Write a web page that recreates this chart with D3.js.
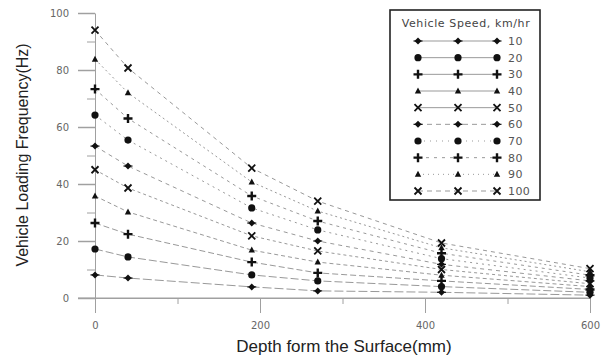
<!DOCTYPE html>
<html>
<head>
<meta charset="utf-8">
<script src="https://cdn.jsdelivr.net/npm/d3@7"></script>
<style>
  body { margin: 0; background: #fff; }
  svg { display: block; font-family: "Liberation Sans", Arial, sans-serif; }
  .axis path, .axis line { stroke: #a0a0a0; }
  .axis text { fill: #666; font-size: 10px; font-family: "DejaVu Sans", sans-serif; }
</style>
</head>
<body>
<div id="chart"></div>
<script>
  // depths (mm) where frequencies were computed
  var depths = [0, 40, 190, 270, 420, 600];
  var speeds = [10, 20, 30, 40, 50, 60, 70, 80, 90, 100];

  // loading frequency (Hz) per vehicle speed, one value per depth
  var freq10 = [8.1, 7.0, 3.9, 2.5, 2.0, 1.0];
  var freq20 = [17.2, 14.4, 8.1, 6.0, 4.0, 2.0];
  var freq30 = [26.3, 22.4, 12.6, 8.8, 6.0, 3.0];
  var freq40 = [35.8, 30.2, 16.8, 12.6, 8.0, 4.0];
  var freq50 = [45.0, 38.6, 21.8, 16.5, 10.0, 5.0];
  var freq60 = [53.3, 46.3, 26.3, 20.0, 11.8, 6.0];
  var freq70 = [64.2, 55.4, 31.6, 23.9, 13.8, 7.0];
  var freq80 = [73.3, 63.0, 35.8, 27.0, 15.7, 8.0];
  var freq90 = [83.8, 72.0, 40.7, 30.5, 17.6, 9.2];
  var freq100 = [94.0, 80.7, 45.6, 34.0, 19.3, 10.3];

  var xTicks = [0, 200, 400, 600];
  var xMinorTicks = [100, 300, 500];
  var yTicks = [0, 20, 40, 60, 80, 100];
  var yMinorTicks = [10, 30, 50, 70, 90];

  var WIDTH = 609;
  var HEIGHT = 360;

  var series = [freq10, freq20, freq30, freq40, freq50, freq60, freq70, freq80, freq90, freq100]
    .map(function (values, i) {
      return {
        speed: speeds[i],
        points: values.map(function (v, j) { return { depth: depths[j], value: v }; })
      };
    });

  // marker shape and line dash per series (same order as speeds)
  var shapes = ['diamond', 'circle', 'plus', 'triangle', 'cross',
                'diamond', 'circle', 'plus', 'triangle', 'cross'];
  var dashes = ['9,3', '8,3', '6,3', '4,3', '3,3', '4,4', '2,4', '3,4', '2,3', '4,4'];
  var legendDashes = [null, null, null, null, null, '5,4', '1,5', '3,5', '1,4', '5,4'];

  var svg = d3.select('#chart').append('svg')
    .attr('width', WIDTH)
    .attr('height', HEIGHT);

  var x = d3.scaleLinear().domain([0, 600]).range([95, 590]);
  var y = d3.scaleLinear().domain([0, 100]).range([298, 13]);

  // y axis, major + minor ticks
  svg.append('g')
    .attr('class', 'axis')
    .attr('transform', 'translate(95,0)')
    .call(d3.axisLeft(y).tickValues(yMinorTicks).tickSize(8).tickFormat(''))
    .select('.domain').remove();
  var yAxis = svg.append('g')
    .attr('class', 'axis')
    .attr('transform', 'translate(95,0)')
    .call(d3.axisLeft(y).tickValues(yTicks).tickSize(17).tickSizeOuter(0).tickPadding(9));
  yAxis.selectAll('line').attr('stroke-width', 1.5);

  // x axis, major + minor ticks
  svg.append('g')
    .attr('class', 'axis')
    .attr('transform', 'translate(0,298)')
    .call(d3.axisBottom(x).tickValues(xMinorTicks).tickSize(6).tickFormat(''))
    .select('.domain').remove();
  svg.append('g')
    .attr('class', 'axis')
    .attr('transform', 'translate(0,298)')
    .call(d3.axisBottom(x).tickValues(xTicks).tickSize(15).tickSizeOuter(0).tickPadding(9));
  // x axis line extends under the y labels
  svg.append('line')
    .attr('x1', 78).attr('x2', x(600))
    .attr('y1', y(0)).attr('y2', y(0))
    .attr('stroke', '#a0a0a0');

  // axis titles
  svg.append('text')
    .attr('x', 344).attr('y', 352)
    .attr('text-anchor', 'middle')
    .attr('font-size', 17)
    .attr('fill', '#222')
    .text('Depth form the Surface(mm)');
  svg.append('text')
    .attr('transform', 'translate(28,155)rotate(-90)')
    .attr('text-anchor', 'middle')
    .attr('font-size', 16)
    .attr('fill', '#222')
    .text('Vehicle Loading Frequency(Hz)');

  function marker(sel, shape) {
    if (shape === 'circle') {
      sel.append('circle').attr('r', 3.6).attr('fill', '#111');
    } else if (shape === 'diamond') {
      sel.append('path').attr('d', 'M0,-3.5L3.5,0L0,3.5L-3.5,0Z').attr('fill', '#111');
      sel.append('path').attr('d', 'M-4.5,0H4.5').attr('stroke', '#111').attr('stroke-width', 1.2);
    } else if (shape === 'plus') {
      sel.append('path').attr('d', 'M-4.5,0H4.5M0,-4.5V4.5').attr('stroke', '#111').attr('stroke-width', 2.4);
    } else if (shape === 'triangle') {
      sel.append('path').attr('d', 'M0,-3.5L3.2,2.5L-3.2,2.5Z').attr('fill', '#111');
    } else {
      sel.append('path').attr('d', 'M-3.5,-3.5L3.5,3.5M3.5,-3.5L-3.5,3.5').attr('stroke', '#111').attr('stroke-width', 1.8);
    }
  }

  var line = d3.line()
    .x(function (d) { return x(d.depth); })
    .y(function (d) { return y(d.value); });

  var plot = svg.append('g').attr('class', 'plot');

  series.forEach(function (s, i) {
    plot.append('path')
      .datum(s.points)
      .attr('fill', 'none')
      .attr('stroke', '#999')
      .attr('stroke-width', 1)
      .attr('stroke-dasharray', dashes[i])
      .attr('d', line);
  });

  series.forEach(function (s, i) {
    plot.selectAll(null)
      .data(s.points)
      .enter()
      .append('g')
      .attr('transform', function (d) { return 'translate(' + x(d.depth) + ',' + y(d.value) + ')'; })
      .each(function () { marker(d3.select(this), shapes[i]); });
  });

  // legend
  var legend = svg.append('g').attr('class', 'legend');
  legend.append('rect')
    .attr('x', 390).attr('y', 10)
    .attr('width', 150).attr('height', 190)
    .attr('fill', '#fff')
    .attr('stroke', '#222')
    .attr('stroke-width', 1.6);
  legend.append('text')
    .attr('x', 466).attr('y', 27)
    .attr('text-anchor', 'middle')
    .attr('font-family', '"DejaVu Sans", sans-serif')
    .attr('font-size', 11)
    .attr('letter-spacing', 0.6)
    .attr('fill', '#444')
    .text('Vehicle Speed, km/hr');

  var rowY = d3.scalePoint().domain(speeds).range([41, 191]);
  var legendX = [418, 458, 497];

  speeds.forEach(function (sp, i) {
    var g = legend.append('g').attr('transform', 'translate(0,' + rowY(sp) + ')');
    g.append('line')
      .attr('x1', legendX[0]).attr('x2', legendX[2])
      .attr('stroke', '#999')
      .attr('stroke-width', 1)
      .attr('stroke-dasharray', legendDashes[i]);
    legendX.forEach(function (lx) {
      var m = g.append('g').attr('transform', 'translate(' + lx + ',0)');
      marker(m, shapes[i]);
    });
    g.append('text')
      .attr('x', 508).attr('y', 4)
      .attr('font-family', '"DejaVu Sans", sans-serif')
      .attr('font-size', 11)
      .attr('letter-spacing', 0.4)
      .attr('fill', '#555')
      .text(sp);
  });
</script>
</body>
</html>
